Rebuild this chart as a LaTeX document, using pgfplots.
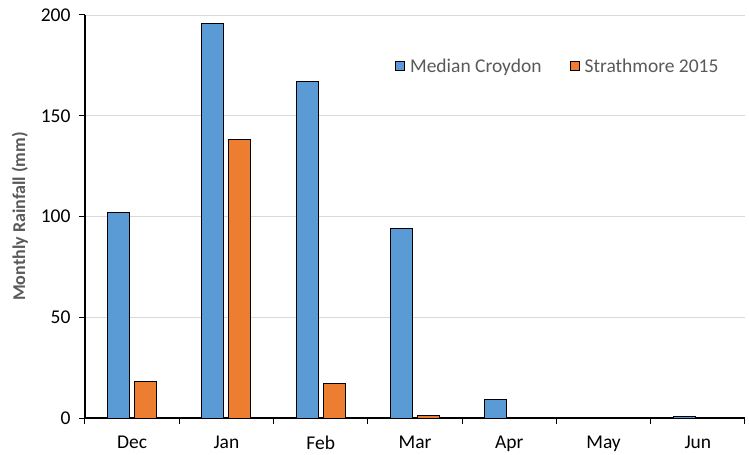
\documentclass[border=0pt]{standalone}
\usepackage{pgfplots}
\pgfplotsset{compat=1.18}
\usepackage{fontspec}
\setmainfont{Carlito}
\definecolor{cblue}{HTML}{5B9BD5}
\definecolor{corange}{HTML}{ED7D31}
\definecolor{tgray}{HTML}{595959}
\definecolor{ggray}{HTML}{D9D9D9}
\begin{document}
\begin{tikzpicture}
\begin{axis}[
  name=ax,
  at={(0,0)}, anchor=south west,
  scale only axis,
  width=660bp, height=403bp,
  ymin=0, ymax=200,
  xmin=-0.5, xmax=6.5,
  ytick={0,50,100,150,200},
  xtick={0,...,6},
  xticklabels={Dec,Jan,Feb,Mar,Apr,May,Jun},
  minor xtick={-0.5,0.5,...,6.5},
  axis x line*=bottom,
  axis y line*=left,
  axis line style={black, line width=1.1bp, -},
  major x tick style={draw=none},
  minor x tick style={black, line width=1bp},
  minor tick length=6bp,
  major tick length=6bp,
  tick align=outside,
  y tick style={black, line width=1bp},
  ymajorgrids,
  grid style={ggray, line width=0.8bp},
  tick label style={font=\fontsize{19.5bp}{22bp}\selectfont, text=black},
  /pgf/number format/assume math mode=true,
  xticklabel style={yshift=-8bp},
  yticklabel style={xshift=-5bp},
  ylabel={\textbf{Monthly Rainfall (mm)}},
  ylabel style={font=\fontsize{18bp}{21bp}\selectfont, text=tgray, xshift=0bp, yshift=6bp},
  ybar=5bp, bar width=22bp,
  legend style={draw=none, fill=none, at={(0.465,0.873)}, anchor=west,
    legend columns=2, font=\fontsize{19.5bp}{22bp}\selectfont, text=tgray,
    /tikz/every even column/.append style={column sep=23bp}},
  legend image code/.code={\draw[#1, draw=black, line width=1bp] (0bp,-4.5bp) rectangle (9bp,4.5bp);},
  legend style={nodes={inner xsep=5bp}},
]
\addplot[fill=cblue, draw=black, line width=1bp] coordinates {(0,102) (1,196) (2,167) (3,94) (4,9.2) (5,0.4) (6,0.6)};
\addplot[fill=corange, draw=black, line width=1bp] coordinates {(0,18) (1,138) (2,17) (3,1.1)};
\legend{Median Croydon, Strathmore 2015}
\end{axis}
\pgfresetboundingbox
\path (-85bp,-37bp) rectangle (664bp,418bp);
\end{tikzpicture}
\end{document}
